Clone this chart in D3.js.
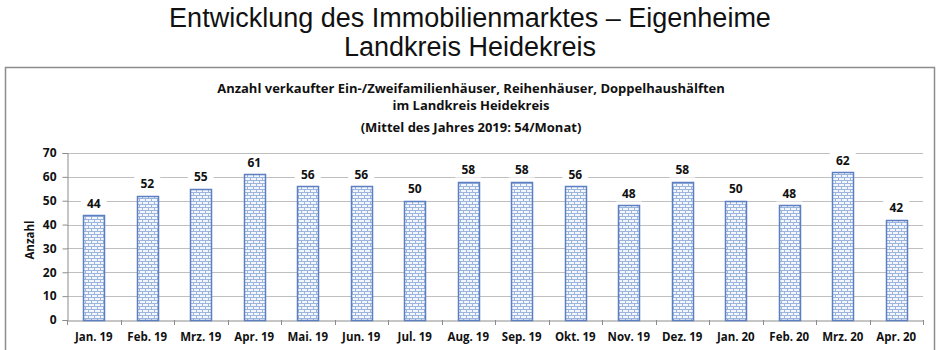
<!DOCTYPE html>
<html><head><meta charset="utf-8">
<script src="https://cdn.jsdelivr.net/npm/d3@7"></script>
<style>body{margin:0;background:#fff}svg{display:block}</style>
</head><body>
<svg id="c" width="940" height="350"></svg>
<script>
const categories = ["Jan. 19","Feb. 19","Mrz. 19","Apr. 19","Mai. 19","Jun. 19","Jul. 19","Aug. 19","Sep. 19","Okt. 19","Nov. 19","Dez. 19","Jan. 20","Feb. 20","Mrz. 20","Apr. 20"];
const values = [44,52,55,61,56,56,50,58,58,56,48,58,50,48,62,42];
const yTicks = [0,10,20,30,40,50,60,70];
const mainTitle = ["Entwicklung des Immobilienmarktes – Eigenheime","Landkreis Heidekreis"];
const chartTitle = ["Anzahl verkaufter Ein-/Zweifamilienhäuser, Reihenhäuser, Doppelhaushälften","im Landkreis Heidekreis","(Mittel des Jahres 2019: 54/Monat)"];
const yLabel = "Anzahl";

const svg = d3.select("#c");
const defs = svg.append("defs");
const pat = defs.append("pattern").attr("id","brick").attr("patternUnits","userSpaceOnUse")
  .attr("width",6).attr("height",6);
pat.append("rect").attr("width",6).attr("height",6).attr("fill","#f3f6fb");
pat.append("path").attr("d","M0,0.5H6M0,3.5H6M1.5,0.5V3.5M4.5,3.5V6.5")
  .attr("stroke","#9bb5de").attr("stroke-width",1).attr("fill","none");

// main title
svg.append("g").selectAll("text").data(mainTitle).join("text")
  .attr("x",470).attr("y",(d,i)=>27+i*29).attr("text-anchor","middle")
  .attr("font-family","Liberation Sans, Arial, sans-serif").attr("font-size",27).attr("fill","#111")
  .text(d=>d);

// outer frame
svg.append("rect").attr("x",5.5).attr("y",67.5).attr("width",929).attr("height",300)
  .attr("fill","#fff").attr("stroke","#8c8c8c").attr("stroke-width",1.5);

// chart title
svg.append("g").selectAll("text").data(chartTitle).join("text")
  .attr("x",471).attr("y",(d,i)=>[93,110,132][i]).attr("text-anchor","middle")
  .attr("font-family","Open Sans, sans-serif").attr("font-weight","bold").attr("font-size",13).attr("fill","#111")
  .text(d=>d);

const m = {l:67, r:923, t:153, b:320};
const x = d3.scaleBand().domain(categories).range([m.l,m.r]).paddingInner(0.6).paddingOuter(0.3);
const xb = d3.scaleBand().domain(categories).range([m.l,m.r]);
const y = d3.scaleLinear().domain([0,70]).range([m.b,m.t]);

// grid
svg.append("g").selectAll("line").data(yTicks.filter(t=>t>0)).join("line")
  .attr("x1",m.l).attr("x2",m.r).attr("y1",d=>Math.round(y(d))+0.5).attr("y2",d=>Math.round(y(d))+0.5)
  .attr("stroke","#bfbfbf").attr("stroke-width",1);

// y axis
const ya = svg.append("g").attr("transform",`translate(${m.l+0.5},0)`)
  .call(d3.axisLeft(y).tickValues(yTicks).tickSize(5).tickPadding(6));
ya.select(".domain").attr("stroke","#8c8c8c");
ya.selectAll(".tick line").attr("stroke","#8c8c8c");
ya.selectAll("text").attr("font-family","Open Sans, sans-serif").attr("font-weight","bold").attr("font-size",12).attr("fill","#111");

// x axis
const xa = svg.append("g").attr("transform",`translate(0,${m.b+0.5})`)
  .call(d3.axisBottom(xb).tickSize(0).tickPadding(12));
xa.select(".domain").attr("stroke","#8c8c8c");
xa.selectAll("text").attr("font-family","Open Sans, sans-serif").attr("font-weight","bold").attr("font-size",11.5).attr("fill","#111");
svg.append("g").selectAll("line").data(categories.concat(["end"])).join("line")
  .attr("x1",(d,i)=>Math.round(m.l+i*xb.step())+0.5).attr("x2",(d,i)=>Math.round(m.l+i*xb.step())+0.5)
  .attr("y1",m.b).attr("y2",m.b+5).attr("stroke","#8c8c8c");

// bars
svg.append("g").selectAll("rect").data(values).join("rect")
  .attr("x",(d,i)=>Math.round(x(categories[i]))+0.5).attr("width",Math.round(x.bandwidth()))
  .attr("y",d=>Math.round(y(d))+0.5).attr("height",d=>Math.round(m.b-y(d)))
  .attr("fill","url(#brick)").attr("stroke","#5b7fc0").attr("stroke-width",1.5);

// labels
const lg = svg.append("g");
values.forEach((v,i)=>{
  const cx = xb(categories[i])+xb.bandwidth()/2;
  const cy = y(v)-12;
  lg.append("rect").attr("x",cx-13).attr("y",cy-8).attr("width",26).attr("height",16).attr("fill","#fff");
  lg.append("text").attr("x",cx).attr("y",cy+4.5).attr("text-anchor","middle")
    .attr("font-family","Open Sans, sans-serif").attr("font-weight","bold").attr("font-size",12).attr("fill","#111").text(v);
});

// y label
svg.append("text").attr("transform","translate(34,240) rotate(-90)").attr("text-anchor","middle")
  .attr("font-family","Open Sans, sans-serif").attr("font-weight","bold").attr("font-size",11.5).attr("fill","#111").text(yLabel);
</script>
</body></html>
